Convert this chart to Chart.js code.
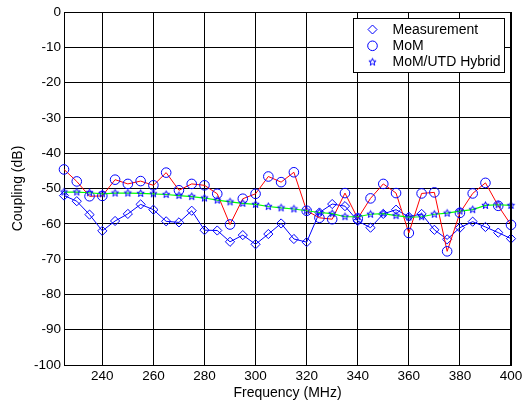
<!DOCTYPE html>
<html><head><meta charset="utf-8">
<script src="https://cdn.jsdelivr.net/npm/chart.js@4/dist/chart.umd.min.js"></script>
<style>html,body{margin:0;padding:0;background:#fff;overflow:hidden}</style>
</head><body>
<canvas id="c" width="523" height="404" style="display:block;width:523px;height:404px"></canvas>
<script>
// ---- data ----
const frequencies = [225,230,235,240,245,250,255,260,265,270,275,280,285,290,295,300,305,310,315,320,325,330,335,340,345,350,355,360,365,370,375,380,385,390,395,400];
const measurement = [-52,-53.6,-57.4,-62,-59.2,-57.2,-54.5,-56,-59.3,-59.6,-56.3,-61.8,-61.9,-65.1,-63.2,-65.8,-62.9,-59.9,-64.3,-65.2,-56.8,-54.4,-55,-59.2,-61.1,-57.2,-56,-58,-57.2,-61.7,-64.4,-61.1,-59.4,-60.9,-62.5,-64.2];
const mom = [-44.6,-48,-52.2,-52.1,-47.5,-48.7,-47.9,-49.1,-45.5,-50.5,-48.7,-49.1,-51.5,-60.2,-52.9,-51.5,-46.6,-48.2,-45.4,-56.3,-58.3,-58.7,-51.3,-58.5,-52.8,-48.7,-51.3,-62.6,-51.4,-51.1,-67.8,-56.9,-51.4,-48.4,-54.9,-60.3];
const hybrid = [-51,-51,-51.2,-51.5,-51.3,-51.3,-51.4,-51.5,-51.7,-52,-52.3,-52.7,-53.3,-53.8,-54.2,-54.5,-55.1,-55.5,-55.8,-56.3,-56.8,-57.1,-58,-58,-57.3,-57.1,-57.7,-58.1,-58,-57.3,-57,-56.4,-56,-54.8,-54.6,-54.8];
const xTicks = [240,260,280,300,320,340,360,380,400];
const yTicks = [0,-10,-20,-30,-40,-50,-60,-70,-80,-90,-100];
const seriesNames = ['Measurement','MoM','MoM/UTD Hybrid'];

const BLUE = '#0000ff', RED = '#ff0000', GREEN = '#00ff00';
const FONT = 'Liberation Sans, Arial, Helvetica, sans-serif';

// pentagram marker
function makeStar(r) {
  const s = Math.ceil(r * 2 + 3);
  const cv = document.createElement('canvas');
  cv.width = s; cv.height = s;
  const g = cv.getContext('2d');
  const c = s / 2;
  g.beginPath();
  for (let i = 0; i < 10; i++) {
    const rad = i % 2 === 0 ? r : r * 0.42;
    const a = -Math.PI / 2 + i * Math.PI / 5;
    const px = c + rad * Math.cos(a), py = c + rad * Math.sin(a);
    if (i === 0) g.moveTo(px, py); else g.lineTo(px, py);
  }
  g.closePath();
  g.strokeStyle = BLUE; g.lineWidth = 1;
  g.stroke();
  return cv;
}
const starImg = makeStar(3.8);

const pts = arr => frequencies.map((f, i) => ({x: f, y: arr[i]}));

const frameAndLegend = {
  id: 'frameAndLegend',
  afterDatasetsDraw(chart) {
    const ctx = chart.ctx, ca = chart.chartArea;
    ctx.save();
    ctx.strokeStyle = '#000';
    ctx.lineWidth = 1;
    ctx.beginPath();
    ctx.moveTo(Math.round(ca.left), Math.round(ca.top) + 0.5);
    ctx.lineTo(Math.round(ca.right), Math.round(ca.top) + 0.5);
    ctx.stroke();
    ctx.lineWidth = 2;
    ctx.beginPath();
    ctx.moveTo(Math.round(ca.right), ca.top);
    ctx.lineTo(Math.round(ca.right), ca.bottom + 1);
    ctx.stroke();
    // legend box
    const w = 151, h = 54;
    const bx = Math.round(ca.right - 7 - w) + 0.5, by = Math.round(ca.top + 6) + 0.5;
    ctx.fillStyle = '#fff';
    ctx.fillRect(bx, by, w, h);
    ctx.lineWidth = 1;
    ctx.strokeStyle = '#000';
    ctx.strokeRect(bx, by, w, h);
    ctx.font = '14px ' + FONT;
    ctx.textBaseline = 'middle';
    ctx.textAlign = 'left';
    const mx = bx + 19, tx = bx + 39;
    for (let i = 0; i < 3; i++) {
      const ry = by + 11 + i * 16.3;
      ctx.strokeStyle = BLUE; ctx.lineWidth = 1;
      if (i === 0) {
        ctx.beginPath();
        ctx.moveTo(mx, ry - 4.5); ctx.lineTo(mx + 4.5, ry); ctx.lineTo(mx, ry + 4.5); ctx.lineTo(mx - 4.5, ry); ctx.closePath();
        ctx.stroke();
      } else if (i === 1) {
        ctx.beginPath(); ctx.arc(mx, ry, 4.8, 0, Math.PI * 2); ctx.stroke();
      } else {
        ctx.drawImage(starImg, mx - starImg.width / 2, ry - starImg.height / 2);
      }
      ctx.fillStyle = '#000';
      ctx.fillText(seriesNames[i], tx, ry + 0.5);
    }
    ctx.restore();
  }
};

new Chart(document.getElementById('c'), {
  type: 'line',
  data: {
    datasets: [
      {label: seriesNames[0], data: pts(measurement), borderColor: BLUE, borderWidth: 1, clip: false,
       pointStyle: 'rectRot', pointRadius: 4.6, pointBorderColor: BLUE, pointBackgroundColor: 'rgba(0,0,0,0)', pointBorderWidth: 1, tension: 0, order: 3},
      {label: seriesNames[1], data: pts(mom), borderColor: RED, borderWidth: 1, clip: false,
       pointStyle: 'circle', pointRadius: 4.8, pointBorderColor: BLUE, pointBackgroundColor: 'rgba(0,0,0,0)', pointBorderWidth: 1, tension: 0, order: 2},
      {label: seriesNames[2], data: pts(hybrid), borderColor: GREEN, borderWidth: 1.2, clip: false,
       pointStyle: starImg, pointRadius: 4, pointBorderColor: BLUE, pointBackgroundColor: BLUE, tension: 0, order: 1}
    ]
  },
  options: {
    responsive: false,
    animation: false,
    devicePixelRatio: 1,
    events: [],
    layout: {padding: {top: 12, right: 12, left: 0, bottom: 0}},
    plugins: {legend: {display: false}, tooltip: {enabled: false}},
    scales: {
      x: {
        type: 'linear', min: 225, max: 400,
        afterBuildTicks: s => { s.ticks = xTicks.map(v => ({value: v})); },
        afterFit: s => { s.height = 39; s.paddingLeft = 0; s.paddingRight = 0; },
        grid: {color: '#000', lineWidth: 1, drawTicks: false},
        border: {color: '#000', width: 1},
        ticks: {color: '#000', font: {family: FONT, size: 13.5}, padding: 3, maxRotation: 0, autoSkip: false},
        title: {display: true, text: 'Frequency (MHz)', color: '#000', font: {family: FONT, size: 14}, padding: {top: 0, bottom: 2}}
      },
      y: {
        type: 'linear', min: -100, max: 0,
        afterBuildTicks: s => { s.ticks = yTicks.map(v => ({value: v})); },
        afterFit: s => { s.width = 64; s.paddingTop = 0; s.paddingBottom = 0; },
        grid: {color: '#000', lineWidth: 1, drawTicks: false},
        border: {color: '#000', width: 1},
        ticks: {color: '#000', font: {family: FONT, size: 13.5}, padding: 3, autoSkip: false},
        title: {display: true, text: 'Coupling (dB)', color: '#000', font: {family: FONT, size: 14}, padding: {top: 10, bottom: 0}}
      }
    }
  },
  plugins: [frameAndLegend]
});
</script>
</body></html>
